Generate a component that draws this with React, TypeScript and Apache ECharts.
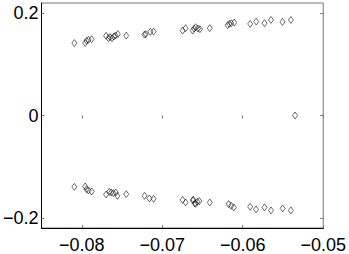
import React, { useEffect, useRef } from "react";
import * as echarts from "echarts";

const upperX = [-0.08092, -0.07958, -0.07941, -0.07917, -0.07877, -0.07698, -0.0767, -0.07649, -0.07625, -0.07601, -0.07581, -0.07552, -0.07448, -0.07221, -0.07205, -0.07148, -0.07108, -0.06747, -0.0671, -0.06621, -0.06604, -0.06585, -0.06556, -0.06532, -0.0641, -0.06188, -0.06167, -0.06143, -0.06106, -0.05908, -0.05832, -0.0573, -0.05649, -0.05507, -0.05402];
const upperY = [0.1416, 0.1416, 0.146, 0.148, 0.1493, 0.1558, 0.1513, 0.1532, 0.1513, 0.1544, 0.1563, 0.1591, 0.1563, 0.1583, 0.1591, 0.1636, 0.1641, 0.1661, 0.1708, 0.1661, 0.17, 0.1727, 0.17, 0.1688, 0.1708, 0.1766, 0.1791, 0.1805, 0.1817, 0.1791, 0.1836, 0.1805, 0.1869, 0.183, 0.1869];
const lowerX = [-0.08092, -0.07958, -0.07941, -0.07917, -0.07877, -0.07698, -0.07658, -0.07634, -0.07609, -0.07577, -0.07557, -0.07448, -0.07221, -0.0716, -0.07108, -0.06747, -0.0671, -0.06621, -0.06613, -0.06597, -0.06585, -0.06564, -0.0654, -0.0641, -0.06176, -0.06143, -0.06111, -0.05908, -0.05835, -0.0573, -0.05649, -0.05504, -0.05402];
const lowerY = [-0.1396, -0.1388, -0.1441, -0.1466, -0.1486, -0.1544, -0.1493, -0.1505, -0.1519, -0.1505, -0.1571, -0.1538, -0.1571, -0.1622, -0.163, -0.1649, -0.17, -0.1655, -0.1649, -0.1719, -0.1727, -0.1688, -0.1674, -0.17, -0.1733, -0.1766, -0.1797, -0.1785, -0.1836, -0.1797, -0.1856, -0.1817, -0.1856];
const realX = [-0.0535];
const realY = [0];

const xTicks = [-0.08, -0.07, -0.06, -0.05];
const yTicks = [-0.2, 0, 0.2];

const fmt = (v: number) => {
  const s = String(Math.round(v * 1000) / 1000);
  return s.replace("-", "\u2212");
};

export default function App() {
  const ref = useRef<HTMLDivElement>(null);
  useEffect(() => {
    if (!ref.current) return;
    const chart = echarts.init(ref.current, undefined, { renderer: "svg" });
    const data: number[][] = [];
    upperX.forEach((x, i) => data.push([x, upperY[i]]));
    lowerX.forEach((x, i) => data.push([x, lowerY[i]]));
    realX.forEach((x, i) => data.push([x, realY[i]]));
    const font = { fontFamily: "Liberation Sans, Arial, sans-serif", fontSize: 18, color: "#000" };
    const base = {
      type: "value" as const,
      splitLine: { show: false },
    };
    chart.setOption({
      animation: false,
      grid: { left: 41, right: 22, top: 3, bottom: 25, show: true, borderColor: "#777", borderWidth: 1 },
      xAxis: [
        {
          ...base,
          min: -0.085,
          max: -0.05,
          position: "bottom",
          axisLine: { show: true, onZero: false, lineStyle: { color: "#000", width: 1 } },
          axisTick: { show: true, inside: true, length: 3, customValues: xTicks, lineStyle: { color: "#777" } },
          axisLabel: { show: true, customValues: xTicks, formatter: fmt, margin: 8, ...font, showMinLabel: true, showMaxLabel: true },
        },
        {
          ...base,
          min: -0.085,
          max: -0.05,
          position: "top",
          axisLine: { show: false },
          axisTick: { show: true, inside: true, length: 3, customValues: xTicks, lineStyle: { color: "#777" } },
          axisLabel: { show: false },
        },
      ],
      yAxis: [
        {
          ...base,
          min: -0.22,
          max: 0.22,
          position: "left",
          axisLine: { show: true, onZero: false, lineStyle: { color: "#000", width: 1 } },
          axisTick: { show: true, inside: true, length: 3, customValues: yTicks, lineStyle: { color: "#777" } },
          axisLabel: { show: true, customValues: yTicks, formatter: fmt, margin: 3, ...font },
        },
        {
          ...base,
          min: -0.22,
          max: 0.22,
          position: "right",
          axisLine: { show: false },
          axisTick: { show: true, inside: true, length: 3, customValues: yTicks, lineStyle: { color: "#777" } },
          axisLabel: { show: false },
        },
      ],
      series: [
        {
          type: "scatter",
          xAxisIndex: 0,
          yAxisIndex: 0,
          data,
          symbol: "diamond",
          symbolSize: [5, 7],
          itemStyle: { color: "rgba(0,0,0,0)", borderColor: "#000", borderWidth: 0.7 },
        },
      ],
    });
    return () => chart.dispose();
  }, []);
  return (
    <div
      ref={ref}
      style={{ position: "fixed", left: 0, top: 0, width: 349, height: 254, background: "#fff" }}
    />
  );
}
